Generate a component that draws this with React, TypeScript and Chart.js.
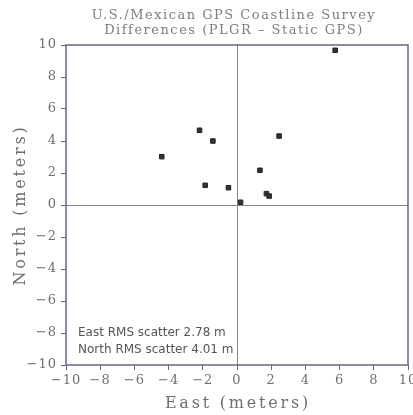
import React, { useEffect, useRef } from "react";
import { Chart, registerables } from "chart.js";

Chart.register(...registerables);

const titleLines = ["U.S./Mexican GPS Coastline Survey", "Differences (PLGR \u2013 Static GPS)"];
const xAxisTitle = "East (meters)";
const yAxisTitle = "North (meters)";
const eastValues = [-2.19, -1.41, -4.4, 2.46, 1.34, -1.86, -0.5, 1.72, 1.88, 0.21, 5.74];
const northValues = [4.67, 4.0, 3.02, 4.31, 2.17, 1.23, 1.08, 0.71, 0.56, 0.17, 9.67];
const annotationLines = ["East RMS scatter 2.78 m", "North RMS scatter 4.01 m"];
const xTickValues = [-10, -8, -6, -4, -2, 0, 2, 4, 6, 8, 10];
const yTickValues = [-10, -8, -6, -4, -2, 0, 2, 4, 6, 8, 10];

const FRAME = "#6e6283";
const TEXT = "#6f6f6f";

const fmt = (v: number) => (v < 0 ? "\u2212" + Math.abs(v) : String(v));

export default function App() {
  const ref = useRef<HTMLCanvasElement>(null);
  useEffect(() => {
    document.body.style.margin = "0";
    const extras = {
      id: "extras",
      beforeDraw(chart: any) {
        chart.ctx.letterSpacing = "1px";
      },
      afterDraw(chart: any) {
        const { ctx, chartArea: a } = chart;
        ctx.save();
        ctx.strokeStyle = FRAME;
        ctx.lineWidth = 1.5;
        ctx.strokeRect(a.left, a.top, a.right - a.left, a.bottom - a.top);
        // title
        ctx.fillStyle = "#7d7d7d";
        ctx.font = "13px 'DejaVu Serif'";
        ctx.letterSpacing = "1.5px";
        ctx.textAlign = "center";
        ctx.textBaseline = "middle";
        ctx.fillText(titleLines[0], 234, 16);
        ctx.fillText(titleLines[1], 234, 31);
        // axis titles
        ctx.fillStyle = TEXT;
        ctx.font = "16px 'DejaVu Serif'";
        ctx.letterSpacing = "2.8px";
        ctx.fillText(xAxisTitle, (a.left + a.right) / 2 + 1, 404);
        ctx.save();
        ctx.translate(21, (a.top + a.bottom) / 2);
        ctx.rotate(-Math.PI / 2);
        ctx.fillText(yAxisTitle, 0, 0);
        ctx.restore();
        // annotation
        ctx.fillStyle = "#555";
        ctx.font = "12px 'DejaVu Sans'";
        ctx.letterSpacing = "0px";
        ctx.textAlign = "left";
        ctx.fillText(annotationLines[0], a.left + 12, 333);
        ctx.fillText(annotationLines[1], a.left + 12, 350);
        ctx.restore();
      },
    };
    const gridColor = (c: any) => (c.tick && c.tick.value === 0 ? "#8a7fa0" : "rgba(0,0,0,0)");
    const chart = new Chart(ref.current!, {
      type: "scatter",
      data: {
        datasets: [
          {
            data: eastValues.map((x, i) => ({ x, y: northValues[i] })),
            pointStyle: "rect",
            pointRadius: 3.2,
            backgroundColor: "#333",
            borderColor: "#222",
            borderWidth: 1,
          },
        ],
      },
      options: {
        animation: false,
        responsive: false,
        layout: { padding: { top: 45, right: 3, left: 0, bottom: 0 } },
        plugins: { legend: { display: false }, tooltip: { enabled: false } },
        scales: {
          x: {
            type: "linear",
            min: -10,
            max: 10,
            afterBuildTicks: (s: any) => {
              s.ticks = xTickValues.map((v) => ({ value: v }));
            },
            afterFit: (s: any) => {
              s.height = 50;
              s.paddingLeft = 0;
              s.paddingRight = 0;
            },
            ticks: {
              color: TEXT,
              font: { family: "DejaVu Serif", size: 13 },
              padding: 3,
              maxRotation: 0,
              autoSkip: false,
              callback: (v: any) => fmt(Number(v)),
            },
            grid: { color: gridColor, tickColor: FRAME, tickLength: 5, lineWidth: 1 },
            border: { display: false },
          },
          y: {
            type: "linear",
            min: -10,
            max: 10,
            afterBuildTicks: (s: any) => {
              s.ticks = yTickValues.map((v) => ({ value: v }));
            },
            afterFit: (s: any) => {
              s.width = 66;
              s.paddingTop = 0;
              s.paddingBottom = 0;
            },
            ticks: {
              color: TEXT,
              font: { family: "DejaVu Serif", size: 13 },
              padding: 4,
              autoSkip: false,
              callback: (v: any) => fmt(Number(v)),
            },
            grid: { color: gridColor, tickColor: FRAME, tickLength: 5, lineWidth: 1 },
            border: { display: false },
          },
        },
      },
      plugins: [extras],
    } as any);
    return () => chart.destroy();
  }, []);
  return <canvas ref={ref} width={413} height={415} style={{ display: "block" }} />;
}
